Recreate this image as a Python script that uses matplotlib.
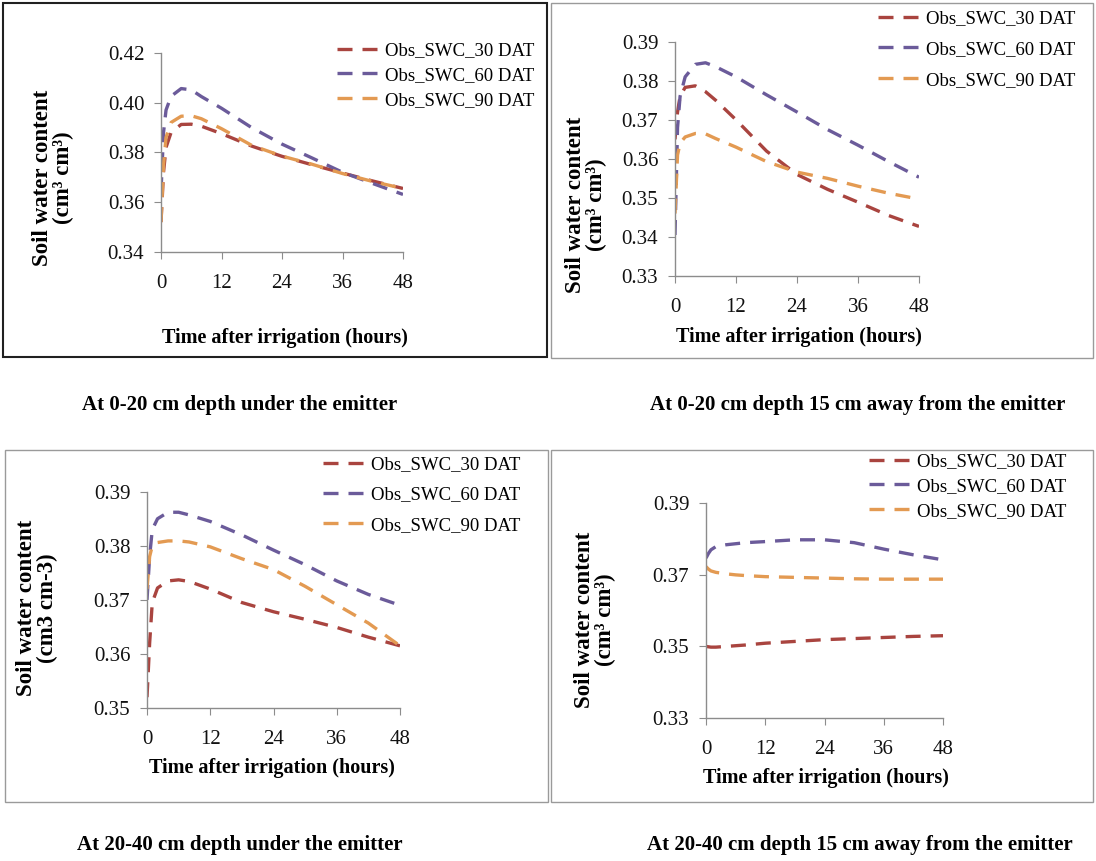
import matplotlib
matplotlib.use("Agg")
import matplotlib.pyplot as plt
from matplotlib.patches import Rectangle

plt.rcParams['font.family'] = ['Liberation Serif', 'DejaVu Serif']

# ore dopo l'irrigazione
hours = [0, 0.5, 1, 2, 4, 6, 8, 12, 18, 24, 30, 36, 42, 48]

# 0-20 cm sotto il gocciolatore
p1_30 = [0.352, 0.372, 0.382, 0.388, 0.3912, 0.3913, 0.3905, 0.3875, 0.3825, 0.3784, 0.3750, 0.3717, 0.3685, 0.3655]
p1_60 = [0.364, 0.388, 0.397, 0.4025, 0.4056, 0.4051, 0.4024, 0.3977, 0.3899, 0.3833, 0.3777, 0.3720, 0.3675, 0.3631]
p1_90 = [0.352, 0.375, 0.386, 0.392, 0.3945, 0.3947, 0.3935, 0.3895, 0.3828, 0.3785, 0.3752, 0.3715, 0.3683, 0.3655]

# 0-20 cm a 15 cm dal gocciolatore
p2_30 = [0.365, 0.372, 0.376, 0.3783, 0.3787, 0.3772, 0.3750, 0.3700, 0.3620, 0.3560, 0.3522, 0.3489, 0.3455, 0.3427]
p2_60 = [0.3405, 0.368, 0.376, 0.381, 0.3842, 0.3846, 0.3836, 0.3810, 0.3764, 0.3720, 0.3675, 0.3635, 0.3593, 0.3553]
p2_90 = [0.346, 0.361, 0.364, 0.3656, 0.3665, 0.3664, 0.3652, 0.3630, 0.3593, 0.3566, 0.3550, 0.3530, 0.3512, 0.3497]

# 20-40 cm sotto il gocciolatore
p3_30 = [0.352, 0.362, 0.3695, 0.3722, 0.3735, 0.3737, 0.3734, 0.3720, 0.3695, 0.3678, 0.3664, 0.3649, 0.3631, 0.3615]
p3_60 = [0.370, 0.378, 0.383, 0.385, 0.3862, 0.3862, 0.3857, 0.3845, 0.3820, 0.3792, 0.3765, 0.3735, 0.3710, 0.3690]
p3_90 = [0.372, 0.378, 0.3800, 0.3806, 0.3809, 0.3809, 0.3807, 0.3798, 0.3776, 0.3756, 0.3725, 0.3691, 0.3657, 0.3615]

# 20-40 cm a 15 cm dal gocciolatore
p4_30 = [0.3500, 0.3499, 0.3498, 0.3498, 0.3500, 0.3502, 0.3504, 0.3509, 0.3514, 0.3519, 0.3522, 0.3525, 0.3528, 0.3530]
p4_60 = [0.3747, 0.3760, 0.3770, 0.3779, 0.3784, 0.3787, 0.3790, 0.3793, 0.3798, 0.3798, 0.3790, 0.3772, 0.3756, 0.3742]
p4_90 = [0.3723, 0.3716, 0.3711, 0.3707, 0.3703, 0.3700, 0.3698, 0.3695, 0.3693, 0.3691, 0.3689, 0.3688, 0.3688, 0.3688]

series_names = ["Obs_SWC_30 DAT", "Obs_SWC_60 DAT", "Obs_SWC_90 DAT"]
colors = ["#a9443f", "#6b5b9a", "#e39a52"]
xticks = [0, 12, 24, 36, 48]

captions = ["At 0-20 cm depth under the emitter",
            "At 0-20 cm depth 15 cm away from the emitter",
            "At 20-40 cm depth under the emitter",
            "At 20-40 cm depth 15 cm away from the emitter"]

W, H = 1096, 861
fig = plt.figure(figsize=(W / 100, H / 100), dpi=100)

def fx(px):
    return px / W

def fy(py):
    return 1 - py / H

# posizioni in pixel: (x0, x48, y_top, y_bottom), etichette, legenda, riquadro
panels = [
    dict(data=[p1_30, p1_60, p1_90], px=(161, 403, 52.7, 252), ylim=(0.34, 0.42), step=0.02,
         unit="(cm³ cm³)", ylab=(53, 178), xlab=(285, 338), leg=(337, 42), lsp=0.41,
         box=(3, 3, 547, 357), boxc="#202020", boxw=1.5, cap=(240, 405)),
    dict(data=[p2_30, p2_60, p2_90], px=(675, 919, 41.7, 276), ylim=(0.33, 0.39), step=0.01,
         unit="(cm³ cm³)", ylab=(586, 205), xlab=(799, 337), leg=(878, 10), lsp=0.73,
         box=(551, 3, 1093, 358), boxc="#9a9a9a", boxw=1.0, cap=(858, 405)),
    dict(data=[p3_30, p3_60, p3_90], px=(147, 400, 491.7, 708), ylim=(0.35, 0.39), step=0.01,
         unit="(cm3 cm-3)", ylab=(37, 608), xlab=(272, 768), leg=(323, 456), lsp=0.7,
         box=(5, 450, 548, 802), boxc="#9a9a9a", boxw=1.0, cap=(240, 845)),
    dict(data=[p4_30, p4_60, p4_90], px=(706, 943, 503.3, 718), ylim=(0.33, 0.39), step=0.02,
         unit="(cm³ cm³)", ylab=(595, 620), xlab=(826, 778), leg=(869, 453), lsp=0.41,
         box=(551, 450, 1093, 802), boxc="#9a9a9a", boxw=1.0, cap=(860, 845)),
]

for i, p in enumerate(panels):
    bx0, by0, bx1, by1 = p["box"]
    fig.add_artist(Rectangle((fx(bx0), fy(by1)), fx(bx1 - bx0), (by1 - by0) / H,
                             transform=fig.transFigure, fill=False,
                             edgecolor=p["boxc"], linewidth=p["boxw"]))

    x0, x1, yt, yb = p["px"]
    ax = fig.add_axes([fx(x0), fy(yb), fx(x1 - x0), (yb - yt) / H])
    ax.set_facecolor("none")
    for vals, name, c in zip(p["data"], series_names, colors):
        ax.plot(hours, vals, color=c, lw=2.4, linestyle=(0, (4.5, 3.0)), label=name)

    lo, hi = p["ylim"]
    ax.set_xlim(0, 48)
    ax.set_ylim(lo, hi)
    ax.set_xticks(xticks)
    n = int(round((hi - lo) / p["step"]))
    ax.set_yticks([lo + k * p["step"] for k in range(n + 1)])
    ax.yaxis.set_major_formatter(matplotlib.ticker.FormatStrFormatter("%.2f"))
    for s in ["top", "right"]:
        ax.spines[s].set_visible(False)
    for s in ["left", "bottom"]:
        ax.spines[s].set_color("#8c8c8c")
        ax.spines[s].set_linewidth(1.0)
    ax.tick_params(axis="both", direction="out", length=5, color="#8c8c8c",
                   labelsize=15, labelcolor="#111111")
    ax.tick_params(axis="x", pad=11)
    ax.tick_params(axis="y", pad=7)

    fig.text(fx(p["xlab"][0]), fy(p["xlab"][1]), "Time after irrigation (hours)",
             ha="center", va="center", fontsize=14.5, fontweight="bold")
    fig.text(fx(p["ylab"][0]), fy(p["ylab"][1]), "Soil water content\n" + p["unit"],
             ha="center", va="center", rotation=90, fontsize=16.5, fontweight="bold",
             linespacing=1.05, multialignment="center")

    ax.legend(loc="upper left", bbox_to_anchor=(fx(p["leg"][0]), fy(p["leg"][1])),
              bbox_transform=fig.transFigure, frameon=False, fontsize=13.5,
              borderpad=0, borderaxespad=0, handlelength=2.4, handletextpad=0.15,
              labelspacing=p["lsp"])

    fig.text(fx(p["cap"][0]), fy(p["cap"][1]), captions[i],
             ha="center", va="center", fontsize=15, fontweight="bold")

plt.savefig("out.png", dpi=100)
